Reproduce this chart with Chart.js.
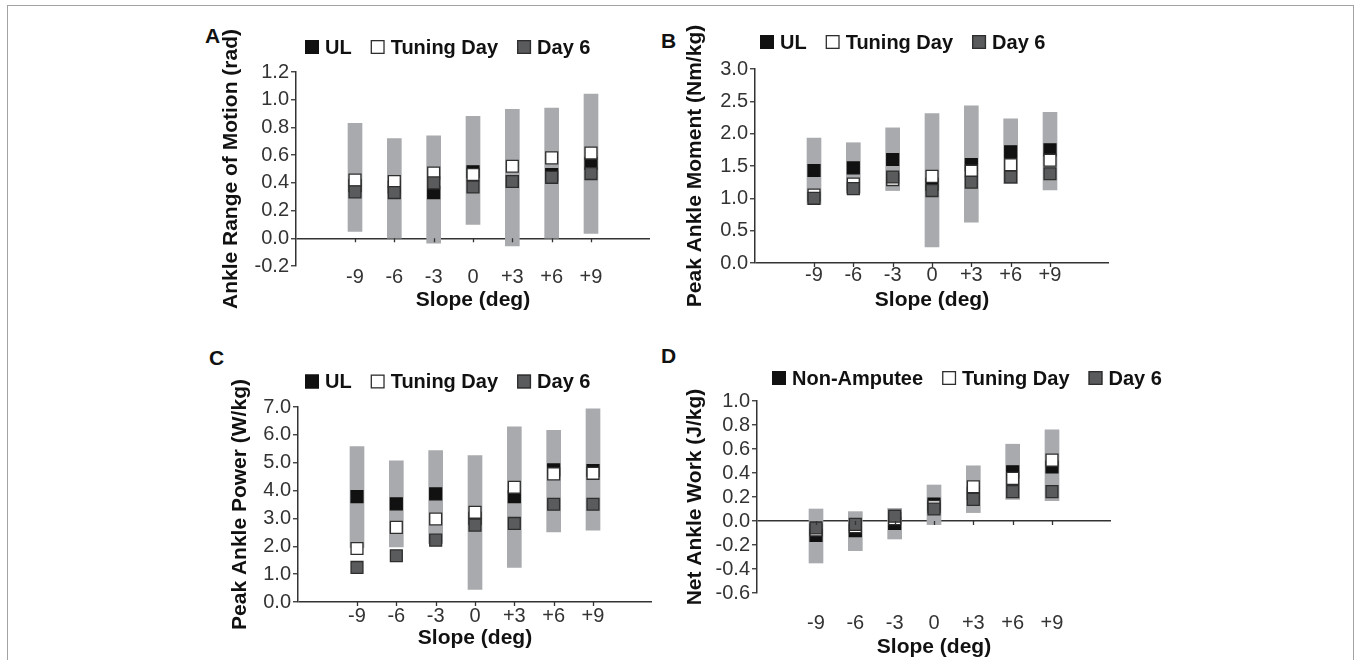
<!DOCTYPE html>
<html><head><meta charset="utf-8">
<script src="https://cdn.jsdelivr.net/npm/chart.js@4.4.0/dist/chart.umd.min.js"></script>
<style>
html,body{margin:0;padding:0;background:#fff;}
body{width:1356px;height:660px;position:relative;overflow:hidden;font-family:"Liberation Sans",Arial,sans-serif;}
#frame{position:absolute;left:7px;top:5px;width:1345px;height:720px;border:1.5px solid #a3a3a3;}
.letter{position:absolute;font-weight:bold;font-size:21px;line-height:21px;color:#111;}
canvas{position:absolute;}
</style></head><body>
<div id="frame"></div>
<div class="letter" style="left:205px;top:25px">A</div>
<div class="letter" style="left:661px;top:30px">B</div>
<div class="letter" style="left:209px;top:347px">C</div>
<div class="letter" style="left:661px;top:345px">D</div>
<canvas id="cA"></canvas>
<canvas id="cB"></canvas>
<canvas id="cC"></canvas>
<canvas id="cD"></canvas>
<script>
// ---- categories ----
const slopes = [-9, -6, -3, 0, 3, 6, 9];
const slopeLabels = ['-9', '-6', '-3', '0', '+3', '+6', '+9'];
const groupNames = ['UL', 'Tuning Day', 'Day 6'];
const groupNamesD = ['Non-Amputee', 'Tuning Day', 'Day 6'];

// ---- A: Ankle Range of Motion (rad) ----
const romLow    = [0.05, 0.00, -0.035, 0.10, -0.055, 0.00, 0.035];
const romHigh   = [0.83, 0.72, 0.74, 0.88, 0.93, 0.94, 1.04];
const romUL     = [0.38, 0.37, 0.33, 0.48, 0.41, 0.46, 0.54];
const romTuning = [0.42, 0.41, 0.47, 0.46, 0.52, 0.58, 0.615];
const romDay6   = [0.335, 0.33, 0.40, 0.37, 0.41, 0.44, 0.467];

// ---- B: Peak Ankle Moment (Nm/kg) ----
const momLow    = [0.91, 1.08, 1.12, 0.25, 0.63, 1.225, 1.13];
const momHigh   = [1.93, 1.86, 2.09, 2.31, 2.43, 2.23, 2.33];
const momUL     = [1.43, 1.47, 1.60, 1.22, 1.52, 1.72, 1.75];
const momTuning = [1.05, 1.22, 1.29, 1.34, 1.42, 1.52, 1.59];
const momDay6   = [1.00, 1.15, 1.33, 1.12, 1.25, 1.33, 1.38];

// ---- C: Peak Ankle Power (W/kg) ----
const powLow    = [1.95, 1.98, 2.10, 0.45, 1.24, 2.52, 2.58];
const powHigh   = [5.58, 5.07, 5.44, 5.26, 6.29, 6.16, 6.93];
const powUL     = [3.78, 3.52, 3.88, 3.00, 3.78, 4.74, 4.72];
const powTuning = [1.92, 2.68, 2.98, 3.22, 4.12, 4.60, 4.62];
const powDay6   = [1.24, 1.66, 2.22, 2.76, 2.82, 3.51, 3.51];

// ---- D: Net Ankle Work (J/kg) ----
const workLow     = [-0.35, -0.247, -0.15, -0.03, 0.07, 0.18, 0.17];
const workHigh    = [0.10, 0.078, 0.105, 0.30, 0.46, 0.64, 0.76];
const workNonAmp  = [-0.12, -0.08, -0.02, 0.14, 0.23, 0.41, 0.45];
const workTuning  = [-0.075, -0.047, 0.02, 0.12, 0.285, 0.355, 0.507];
const workDay6    = [-0.058, -0.028, 0.04, 0.10, 0.18, 0.245, 0.245];

Chart.defaults.font.family = '"Liberation Sans", Arial, sans-serif';
Chart.defaults.animation = false;

const FONT = '"Liberation Sans", Arial, sans-serif';
const markerStyles = [
  {fill: '#111111', stroke: '#111111'},
  {fill: '#ffffff', stroke: '#2e2e2e'},
  {fill: '#5a5b5d', stroke: '#2e2e2e'}
];

const legendPlugin = {
  id: 'panelLegend',
  afterDraw(chart, args, opts) {
    const ctx = chart.ctx, a = chart.chartArea;
    let x = a.left + opts.dx;
    const cy = a.top + opts.dy;
    ctx.save();
    ctx.font = 'bold 20px ' + FONT;
    ctx.textBaseline = 'middle';
    ctx.textAlign = 'left';
    chart.data.datasets.forEach(ds => {
      if (ds.type !== 'scatter') return;
      const s = 14;
      ctx.fillStyle = ds.backgroundColor;
      ctx.fillRect(x, cy - s / 2, s, s);
      ctx.strokeStyle = ds.borderColor;
      ctx.lineWidth = 1.3;
      ctx.strokeRect(x + 0.65, cy - s / 2 + 0.65, s - 1.3, s - 1.3);
      x += s + 6;
      ctx.fillStyle = '#111';
      ctx.fillText(ds.label, x, cy + 1);
      x += ctx.measureText(ds.label).width + 19;
    });
    ctx.restore();
  }
};

const axisTickPlugin = {
  id: 'zeroTicks',
  afterDatasetsDraw(chart) {
    const ctx = chart.ctx, xs = chart.scales.x, ys = chart.scales.y;
    const y0 = ys.getPixelForValue(0);
    ctx.save();
    ctx.strokeStyle = '#333';
    ctx.lineWidth = 1.3;
    ctx.beginPath();
    slopes.forEach(s => {
      const px = Math.round(xs.getPixelForValue(s)) + 0.5;
      ctx.moveTo(px, y0);
      ctx.lineTo(px, y0 + 4);
    });
    ctx.stroke();
    ctx.restore();
  }
};

function makePanel(cfg) {
  const W_Y = 90, H_X = 80, PAD_T = 60, PAD_R = 60;
  const cv = document.getElementById(cfg.id);
  const a = cfg.area;
  const w = W_Y + (a.right - a.left) + PAD_R;
  const h = PAD_T + (a.bottom - a.top) + H_X;
  cv.width = w; cv.height = h;
  cv.style.width = w + 'px'; cv.style.height = h + 'px';
  cv.style.left = (a.left - W_Y) + 'px';
  cv.style.top = (a.top - PAD_T) + 'px';

  const datasets = [{
    type: 'bar', label: 'range',
    data: slopes.map((s, i) => ({x: s, y: [cfg.low[i], cfg.high[i]]})),
    backgroundColor: '#a8aaad', borderWidth: 0, barThickness: 14, grouped: false, order: 4
  }];
  cfg.names.forEach((n, k) => {
    datasets.push({
      type: 'scatter', label: n,
      data: slopes.map((s, i) => ({x: s, y: cfg.vals[k][i]})),
      pointStyle: 'rect', pointRadius: 8.4, pointHoverRadius: 8.4,
      backgroundColor: markerStyles[k].fill, borderColor: markerStyles[k].stroke,
      borderWidth: 1.3, showLine: false, order: 3 - k
    });
  });

  return new Chart(cv, {
    type: 'bar',
    data: {datasets},
    options: {
      responsive: false, devicePixelRatio: 1, events: [],
      layout: {padding: {top: PAD_T, right: PAD_R, left: 0, bottom: 0}},
      plugins: {legend: {display: false}, tooltip: {enabled: false},
        panelLegend: {dx: cfg.legendDx, dy: cfg.legendDy}},
      scales: {
        x: {
          type: 'linear', min: -12, max: 12,
          afterFit: s => { s.height = H_X; },
          grid: {display: false, drawTicks: false}, border: {display: false},
          ticks: {stepSize: 3, autoSkip: false, maxRotation: 0, padding: cfg.xTickPad,
            font: {size: 20}, color: '#333',
            callback: v => { const i = slopes.indexOf(v); return i < 0 ? '' : slopeLabels[i]; }},
          title: {display: true, text: 'Slope (deg)', color: '#111',
            font: {size: 21, weight: 'bold'},
            padding: {top: 0, bottom: H_X - 12.6 - cfg.xTitleOffset}}
        },
        y: {
          type: 'linear', min: cfg.yMin, max: cfg.yMax, z: 1,
          afterFit: s => { s.width = W_Y; },
          ticks: {stepSize: cfg.yStep, autoSkip: false, padding: 2, font: {size: 20}, color: '#333',
            callback: v => Math.abs(v) < 1e-9 ? '0.0' : Number(v).toFixed(1)},
          grid: {
            color: c => (c.tick && Math.abs(c.tick.value) < 1e-9) ? '#333' : 'rgba(0,0,0,0)',
            lineWidth: 1.5, tickColor: '#333', tickLength: 5, tickWidth: 1.3
          },
          border: {display: true, color: '#333', width: 1.5},
          title: {display: true, text: cfg.yTitle, color: '#111',
            font: {size: 21, weight: 'bold'},
            padding: {top: W_Y - 12.6 - cfg.yTitleOffset, bottom: 0}}
        }
      }
    },
    plugins: [legendPlugin, axisTickPlugin]
  });
}

makePanel({id: 'cA', area: {left: 296, right: 650, top: 72, bottom: 266},
  yMin: -0.2, yMax: 1.2, yStep: 0.2, yTitle: 'Ankle Range of Motion (rad)',
  yTitleOffset: 65, xTickPad: -1, xTitleOffset: 34, legendDx: 9, legendDy: -25,
  names: groupNames, low: romLow, high: romHigh, vals: [romUL, romTuning, romDay6]});

makePanel({id: 'cB', area: {left: 755, right: 1109, top: 69, bottom: 263},
  yMin: 0, yMax: 3, yStep: 0.5, yTitle: 'Peak Ankle Moment (Nm/kg)',
  yTitleOffset: 60, xTickPad: 0.5, xTitleOffset: 37, legendDx: 5, legendDy: -27,
  names: groupNames, low: momLow, high: momHigh, vals: [momUL, momTuning, momDay6]});

makePanel({id: 'cC', area: {left: 298, right: 652, top: 407, bottom: 602},
  yMin: 0, yMax: 7, yStep: 1, yTitle: 'Peak Ankle Power (W/kg)',
  yTitleOffset: 58, xTickPad: 2.5, xTitleOffset: 36, legendDx: 7, legendDy: -25.5,
  names: groupNames, low: powLow, high: powHigh, vals: [powUL, powTuning, powDay6]});

makePanel({id: 'cD', area: {left: 757, right: 1111, top: 401, bottom: 593},
  yMin: -0.6, yMax: 1.0, yStep: 0.2, yTitle: 'Net Ankle Work (J/kg)',
  yTitleOffset: 62, xTickPad: 18, xTitleOffset: 54, legendDx: 15, legendDy: -23,
  names: groupNamesD, low: workLow, high: workHigh, vals: [workNonAmp, workTuning, workDay6]});
</script>
</body></html>
